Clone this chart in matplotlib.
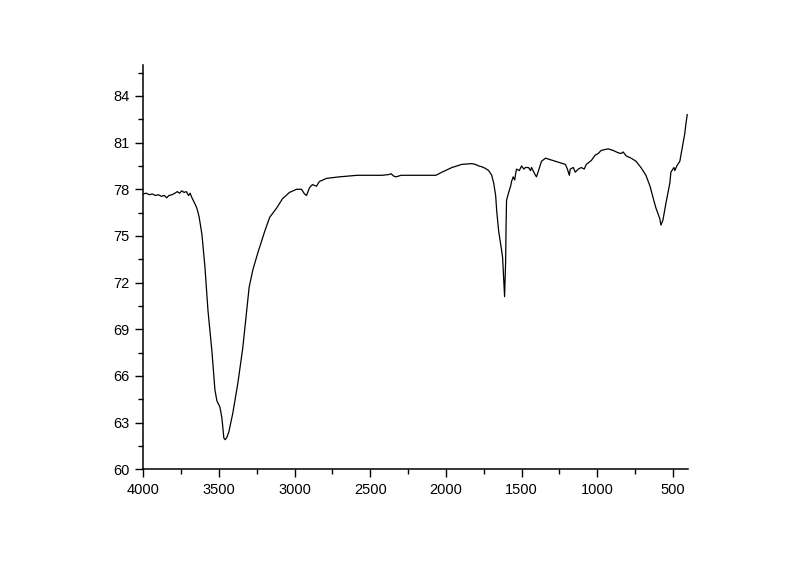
import matplotlib

matplotlib.use("Agg")
import matplotlib.pyplot as plt
from matplotlib.ticker import MultipleLocator

plt.rcParams["font.family"] = ["Liberation Sans", "DejaVu Sans"]

# wavenumber (cm-1) and transmittance (%)
wavenumber = [
    4000, 3980, 3960, 3940, 3920, 3900, 3880, 3860, 3845, 3830,
    3810, 3790, 3775, 3760, 3745, 3730, 3715, 3700, 3690, 3680,
    3670, 3660, 3650, 3640, 3630, 3620, 3612, 3592, 3572, 3546,
    3526, 3513, 3493, 3480, 3467, 3458, 3447, 3434, 3408, 3375,
    3342, 3316, 3300, 3276, 3243, 3197, 3164, 3118, 3079, 3033,
    2987, 2954, 2934, 2921, 2901, 2882, 2855, 2836, 2789, 2704,
    2585, 2421, 2375, 2362, 2345, 2329, 2296, 2197, 2066, 2026,
    1960, 1895, 1829, 1805, 1783, 1763, 1740, 1717, 1697, 1684,
    1671, 1664, 1651, 1638, 1632, 1625, 1618, 1612, 1605, 1602,
    1599, 1585, 1572, 1566, 1555, 1545, 1539, 1533, 1515, 1500,
    1485, 1474, 1454, 1441, 1434, 1408, 1401, 1388, 1368, 1342,
    1276, 1210, 1197, 1184, 1178, 1158, 1145, 1125, 1105, 1086,
    1072, 1039, 1013, 993, 974, 928, 895, 862, 842, 829,
    809, 776, 743, 711, 678, 651, 632, 612, 586, 579,
    566, 546, 520, 513, 493, 487, 474, 454, 441, 428,
    421, 414, 408, 405,
]
transmittance = [
    77.7, 77.75, 77.65, 77.7, 77.6, 77.65, 77.55, 77.6, 77.45, 77.6,
    77.65, 77.75, 77.85, 77.75, 77.9, 77.8, 77.85, 77.6, 77.75, 77.5,
    77.3, 77.1, 76.9, 76.6, 76.2, 75.6, 75.1, 73.0, 70.2, 67.6,
    65.1, 64.4, 64.0, 63.3, 62.0, 61.9, 62.05, 62.4, 63.6, 65.5,
    67.8, 70.2, 71.7, 72.8, 73.9, 75.3, 76.2, 76.8, 77.4, 77.8,
    78.0, 78.0, 77.7, 77.6, 78.1, 78.3, 78.2, 78.5, 78.7, 78.8,
    78.9, 78.9, 78.95, 79.0, 78.85, 78.8, 78.9, 78.9, 78.9, 79.1,
    79.4, 79.6, 79.65, 79.6, 79.5, 79.45, 79.35, 79.2, 78.9, 78.4,
    77.6, 76.6, 75.3, 74.5, 74.1, 73.6, 72.3, 71.1, 73.4, 75.8,
    77.3, 77.8, 78.2, 78.5, 78.8, 78.6, 79.0, 79.3, 79.2, 79.5,
    79.3, 79.4, 79.4, 79.2, 79.4, 78.9, 78.8, 79.2, 79.8, 80.0,
    79.8, 79.6, 79.3, 78.9, 79.3, 79.4, 79.1, 79.3, 79.4, 79.3,
    79.6, 79.85, 80.2, 80.3, 80.5, 80.6, 80.5, 80.35, 80.3, 80.4,
    80.15, 80.0, 79.8, 79.4, 78.9, 78.2, 77.5, 76.8, 76.1, 75.7,
    76.0, 77.1, 78.4, 79.1, 79.4, 79.2, 79.5, 79.8, 80.5, 81.2,
    81.6, 82.2, 82.6, 82.8,
]

fig = plt.figure(figsize=(8.0, 5.64), dpi=100)
ax = fig.add_axes([0.179, 0.168, 0.681, 0.717])

ax.plot(wavenumber, transmittance, color="black", linewidth=0.9)

ax.set_xlim(4000, 400)
ax.set_ylim(60, 86)
ax.xaxis.set_major_locator(MultipleLocator(500))
ax.xaxis.set_minor_locator(MultipleLocator(250))
ax.yaxis.set_major_locator(MultipleLocator(3))
ax.yaxis.set_minor_locator(MultipleLocator(1.5))

for side in ("top", "right"):
    ax.spines[side].set_visible(False)
for side in ("left", "bottom"):
    ax.spines[side].set_linewidth(1.1)

ax.tick_params(which="major", direction="out", length=6, width=1.0,
               labelsize=10.5, pad=4)
ax.tick_params(which="minor", direction="out", length=3.5, width=1.0)

fig.savefig("out.png", dpi=100, facecolor="white")
